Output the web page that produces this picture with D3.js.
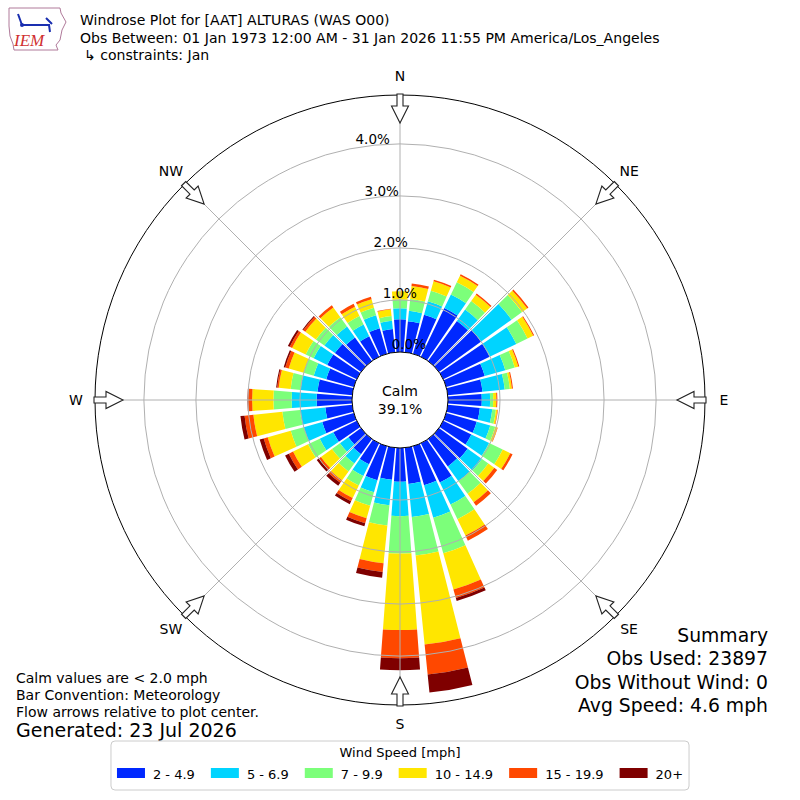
<!DOCTYPE html>
<html><head><meta charset="utf-8">
<script src="https://cdn.jsdelivr.net/npm/d3@7"></script>
<style>
body{margin:0;background:#fff}
svg{display:block;font-family:"DejaVu Sans",sans-serif}
</style>
</head><body>
<svg id="chart" width="800" height="800"></svg>
<script>
// ---------------- data ----------------
const directions = [0,10,20,30,40,50,60,70,80,90,100,110,120,130,140,150,160,170,
                    180,190,200,210,220,230,240,250,260,270,280,290,300,310,320,330,340,350];
const speedBins = ["2 - 4.9","5 - 6.9","7 - 9.9","10 - 14.9","15 - 19.9","20+"];
const binColors = ["#0028ff","#00d4ff","#7cff7a","#ffe600","#ff4800","#7f0000"];
// frequency (%) of each speed bin per direction
const bin2to5   = [.63,.60,.78,1.04,.95,1.00,.99,.77,.67,.65,.62,.61,.60,.68,.65,.84,.78,.70,
                   .65,.62,.68,.45,.36,.30,.50,.63,.52,.68,.67,.55,.63,.62,.56,.44,.51,.45];
const bin5to7   = [.21,.20,.27,.29,.27,.72,.57,.41,.43,.16,.24,.27,.38,.34,.35,.47,.65,.64,
                   .66,.49,.24,.25,.22,.20,.29,.37,.49,.48,.33,.25,.29,.25,.26,.25,.26,.16];
const bin7to10  = [.17,.23,.21,.26,.20,.25,.24,.19,.10,.06,.07,.10,.29,.15,.30,.31,.71,.74,
                   .72,.39,.27,.20,.19,.19,.25,.26,.34,.35,.19,.20,.17,.20,.22,.18,.15,.09];
const bin10to15 = [.16,.25,.19,.14,.15,.12,.12,.07,.04,.06,.03,.04,.16,.14,.20,.35,.72,1.72,
                   1.47,.73,.25,.27,.21,.26,.32,.46,.56,.41,.23,.30,.29,.25,.23,.20,.17,.13];
const bin15to20 = [0,.05,.03,.03,.03,.03,.02,.02,.02,.02,.01,.01,.05,.07,.08,.11,.17,.58,
                   .54,.17,.10,.07,.06,.05,.09,.08,.17,.08,.03,.07,.05,.05,.05,.06,.05,.01];
const bin20plus = [0,0,0,0,0,0,0,0,0,0,0,0,0,0,0,0,.06,.35,
                   .23,.11,.06,.06,.07,.05,.08,.08,.08,.01,.02,.03,.04,.02,0,0,0,0];
const ringTicks = [0,1,2,3,4];
const compass = [["N",0],["NE",45],["E",90],["SE",135],["S",180],["SW",225],["W",270],["NW",315]];
const titleLines = ["Windrose Plot for [AAT] ALTURAS (WAS O00)",
  "Obs Between: 01 Jan 1973 12:00 AM - 31 Jan 2026 11:55 PM America/Los_Angeles",
  "\u21b3 constraints: Jan"];
const calmText = ["Calm","39.1%"];
const notes = ["Calm values are < 2.0 mph","Bar Convention: Meteorology","Flow arrows relative to plot center."];
const generated = "Generated: 23 Jul 2026";
const summary = ["Summary","Obs Used: 23897","Obs Without Wind: 0","Avg Speed: 4.6 mph"];
const legendTitle = "Wind Speed [mph]";

// ---------------- drawing ----------------
const svg = d3.select("#chart");
const cx = 400, cy = 400, R = 305, calmR = 48;
const rScale = d3.scaleLinear().domain([0, 4.94]).range([calmR, R]);
const bins = [bin2to5, bin5to7, bin7to10, bin10to15, bin15to20, bin20plus];
const angle = d3.scaleLinear().domain([0,360]).range([0, 2*Math.PI]);
const halfW = angle(10) * 0.85 / 2;

const g = svg.append("g").attr("transform", `translate(${cx},${cy})`);

// bars
const arc = d3.arc();
directions.forEach((dir, i) => {
  let base = 0;
  bins.forEach((b, j) => {
    const v = b[i];
    if (v > 0) {
      g.append("path")
        .attr("d", arc({innerRadius: rScale(base), outerRadius: rScale(base + v),
                        startAngle: angle(dir) - halfW, endAngle: angle(dir) + halfW}))
        .attr("fill", binColors[j]);
    }
    base += v;
  });
});

// grid rings
ringTicks.filter(t => t > 0).forEach(t => {
  g.append("circle").attr("r", rScale(t)).attr("fill","none")
   .attr("stroke","#b0b0b0").attr("stroke-width",1);
});
// spokes
compass.forEach(([lab, deg]) => {
  const a = angle(deg);
  g.append("line").attr("x1",0).attr("y1",0)
   .attr("x2", R*Math.sin(a)).attr("y2", -R*Math.cos(a))
   .attr("stroke","#b0b0b0").attr("stroke-width",1);
});
// outer circle
g.append("circle").attr("r", R).attr("fill","none").attr("stroke","#000").attr("stroke-width",1);

// arrows
compass.forEach(([lab, deg]) => {
  const p = `M-3,${-R-1} L3,${-R-1} L3,${-R+11} L8.5,${-R+11} L0,${-R+28} L-8.5,${-R+11} L-3,${-R+11} Z`;
  g.append("path").attr("d", p).attr("transform", `rotate(${deg})`)
   .attr("fill","#fff").attr("stroke","#222").attr("stroke-width",1.1);
});
// compass labels
compass.forEach(([lab, deg]) => {
  const a = angle(deg);
  g.append("text").attr("x", 324*Math.sin(a)).attr("y", -324*Math.cos(a))
   .attr("text-anchor","middle").attr("dominant-baseline","central")
   .attr("font-size",14).attr("fill","#000").text(lab);
});

// calm circle
g.append("circle").attr("r", calmR).attr("fill","#fff").attr("stroke","#000").attr("stroke-width",1);
calmText.forEach((t,i) => {
  g.append("text").attr("x",0).attr("y", -4 + i*18).attr("text-anchor","middle")
   .attr("font-size",14).text(t);
});

// ring labels
const la = angle(350);
ringTicks.forEach(t => {
  const rr = rScale(t);
  g.append("text").attr("x", rr*Math.sin(la)).attr("y", -rr*Math.cos(la) - 3.5)
   .attr("font-size",13.5).text(t.toFixed(1) + "%");
});

// titles
titleLines.forEach((t,i) => {
  svg.append("text").attr("x", i===2 ? 84 : 80).attr("y", 25 + i*17.5)
    .attr("font-size",14.05).text(t);
});

// logo
const logo = svg.append("g");
logo.append("path")
  .attr("d","M9,8 L60,8 L61,13 L66,22 L62,30 L60,40 L56,45 L58,50 L14,50 L13,44 L10,36 L9,26 Z")
  .attr("fill","none").attr("stroke","#b07a9a").attr("stroke-width",1);
logo.append("path").attr("d","M22,25 L50,25 M46,18 L52,24 M18,14 L22,25 M49,25 L50,32")
  .attr("fill","none").attr("stroke","#1a2fb0").attr("stroke-width",2);
logo.append("circle").attr("cx",22).attr("cy",25).attr("r",2).attr("fill","#1a2fb0");
logo.append("text").attr("x",14).attr("y",46).attr("font-family","'Liberation Serif',serif")
  .attr("font-style","italic").attr("font-size",17).attr("fill","#d03030").text("IEM");

// notes bottom-left
notes.forEach((t,i) => {
  svg.append("text").attr("x",16).attr("y", 683 + i*17).attr("font-size",14).text(t);
});
svg.append("text").attr("x",16).attr("y",737).attr("font-size",19).text(generated);

// summary bottom-right
summary.forEach((t,i) => {
  svg.append("text").attr("x",768).attr("y", 642 + i*23.3).attr("text-anchor","end")
    .attr("font-size",18.8).text(t);
});

// legend
const lg = svg.append("g");
const box = lg.append("rect").attr("y",741).attr("height",49).attr("rx",4)
  .attr("fill","#fff").attr("stroke","#cccccc").attr("stroke-width",1);
lg.append("text").attr("x",400).attr("y",757).attr("text-anchor","middle")
  .attr("font-size",13).text(legendTitle);
let x = 0;
const items = lg.append("g");
speedBins.forEach((lab,i) => {
  items.append("rect").attr("x",x).attr("y",768).attr("width",28).attr("height",10)
    .attr("fill",binColors[i]);
  const tx = items.append("text").attr("x",x+36).attr("y",779).attr("font-size",13).text(lab);
  x += 36 + tx.node().getComputedTextLength() + 16;
});
const totalW = x - 16;
const startX = 400 - totalW/2;
items.attr("transform",`translate(${startX},0)`);
box.attr("x", startX - 6).attr("width", totalW + 12);
</script>
</body></html>
